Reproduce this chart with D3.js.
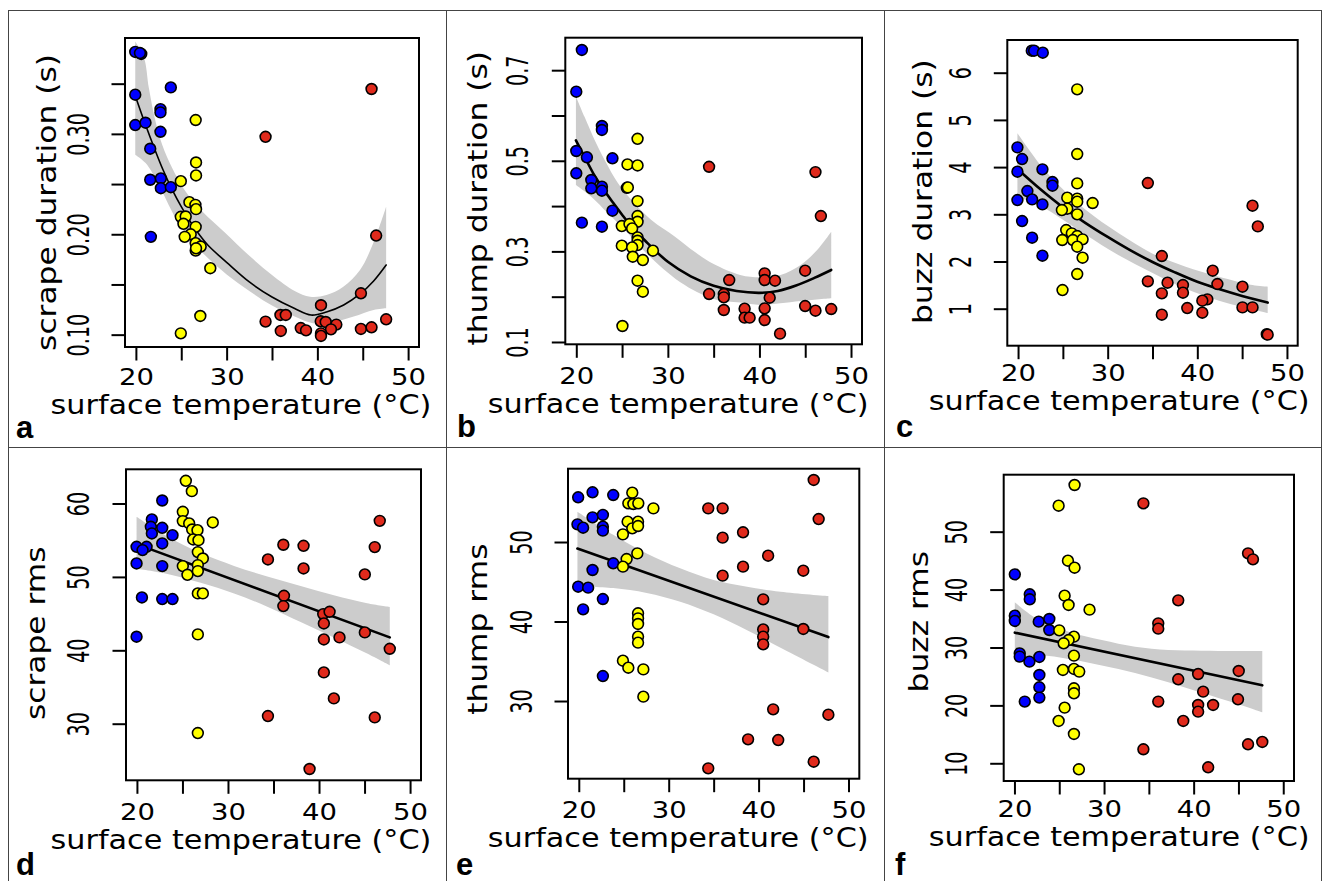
<!DOCTYPE html>
<html><head><meta charset="utf-8">
<script src="https://cdn.jsdelivr.net/npm/d3@7"></script>
<style>
body{margin:0;background:#fff}
svg{display:block}
text{font-family:"DejaVu Sans",sans-serif;fill:#000}
</style>
</head><body>
<svg id="chart" width="1323" height="881"></svg>
<script>
// ---------------- DATA ----------------
const xTicks = [20, 25, 30, 35, 40, 45, 50];
const xTickLabels = ["20", "", "30", "", "40", "", "50"];
const xLimits = [18.8, 51.2];
const xTitle = "surface temperature (°C)";

// panel a: scrape duration (s)
const aBlue = [[19.93,0.3816],[20.59,0.3796],[20.45,0.3805],[23.85,0.3463],[19.93,0.339],[22.71,0.3247],[22.71,0.3214],[19.93,0.3088],[21.06,0.3111],[22.71,0.3021],[21.58,0.2852],[21.58,0.2543],[22.75,0.2556],[22.75,0.2459],[23.85,0.2469],[21.65,0.1974]];
const aYellow = [[26.59,0.3138],[26.63,0.2715],[26.63,0.2586],[24.95,0.2529],[25.9,0.232],[26.56,0.2293],[26.63,0.225],[24.95,0.2174],[25.49,0.2177],[25.24,0.2104],[26.59,0.2074],[26.04,0.2],[25.38,0.1974],[26.59,0.1911],[27.14,0.1878],[26.59,0.1838],[26.63,0.186],[28.2,0.1662],[27.1,0.1186],[24.95,0.1013]];
const aRed = [[45.97,0.3447],[34.29,0.2971],[46.48,0.1987],[44.8,0.1412],[40.4,0.1293],[35.93,0.1196],[36.52,0.1196],[34.29,0.113],[40.37,0.1133],[40.92,0.1126],[42.09,0.11],[41.5,0.1053],[35.97,0.1037],[38.17,0.1066],[38.75,0.1043],[40.4,0.1013],[40.4,0.0987],[44.8,0.1057],[45.97,0.1073],[47.58,0.1153]];
const aFit = [[19.93,0.338],[21,0.3105],[22,0.2865],[23,0.264],[24,0.2445],[25,0.2275],[26,0.2125],[27,0.1995],[28,0.1885],[30,0.172],[32.5,0.1525],[35,0.1375],[37.5,0.126],[39.3,0.1195],[41,0.1225],[42.9,0.1295],[44.7,0.1405],[46.2,0.1535],[47.58,0.1694]];
const aHi = [[19.93,0.392],[20.9,0.3757],[21.43,0.3457],[22.16,0.3125],[22.9,0.2892],[24,0.266],[25.46,0.2428],[27.3,0.223],[29.86,0.2013],[32.6,0.1778],[35,0.1595],[37.5,0.1435],[39.2,0.1378],[41,0.1395],[42.86,0.1478],[44.7,0.1644],[46.15,0.191],[47.58,0.2275]];
const aLo = [[19.93,0.2793],[21.07,0.271],[22.5,0.25],[23.6,0.2295],[25.1,0.205],[27.5,0.18],[30,0.16],[32.5,0.1435],[35,0.129],[37.5,0.118],[39.5,0.1114],[41.8,0.1125],[44,0.118],[46.2,0.1246],[47.58,0.1263]];
const aYTicks = [0.10, 0.15, 0.20, 0.25, 0.30, 0.35];
const aYTickLabels = ["0.10", "", "0.20", "", "0.30", ""];
const aYLimits = [0.0877, 0.3955];

// panel b: thump duration (s)
const bBlue = [[20.61,0.7446],[20,0.6525],[22.8,0.5768],[22.8,0.568],[20,0.5216],[21.16,0.5077],[23.95,0.5055],[20,0.4724],[21.64,0.4576],[21.64,0.4393],[22.8,0.4428],[22.8,0.434],[23.95,0.3898],[20.61,0.3634],[22.8,0.3545]];
const bYellow = [[26.69,0.5485],[25.59,0.4919],[26.69,0.4897],[25.52,0.4404],[25.63,0.4412],[26.69,0.411],[26.69,0.378],[26.69,0.3654],[24.97,0.3559],[25.81,0.3603],[26.1,0.3507],[26.69,0.3309],[26.69,0.3235],[26.69,0.314],[24.97,0.3125],[26.1,0.3088],[28.37,0.3015],[26.17,0.2882],[27.27,0.2809],[26.69,0.2353],[27.27,0.211],[25.04,0.1353]];
const bRed = [[46.12,0.475],[34.5,0.4868],[46.71,0.378],[44.99,0.2574],[40.57,0.2515],[40.57,0.2368],[36.7,0.2368],[41.7,0.2353],[34.5,0.2059],[36.11,0.2059],[36.11,0.1985],[41.12,0.1978],[44.99,0.1794],[36.11,0.1706],[38.38,0.1735],[38.38,0.1537],[38.93,0.1537],[40.57,0.1743],[40.57,0.1485],[46.12,0.1691],[47.84,0.1728],[42.25,0.1184]];
const bFit = [[19.96,0.545],[21,0.505],[22,0.467],[23,0.436],[24,0.408],[25,0.381],[26,0.356],[27.5,0.324],[30,0.277],[32.5,0.245],[35,0.224],[37.5,0.2125],[40,0.2085],[42,0.2125],[44,0.2245],[46,0.2415],[47.84,0.259]];
const bHi = [[19.96,0.642],[20.9,0.597],[22,0.546],[23.1,0.5018],[24.56,0.4503],[26.03,0.4135],[28.2,0.3693],[30.78,0.3325],[33,0.298],[35,0.272],[37.9,0.248],[40.1,0.2428],[42.3,0.2479],[44.5,0.27],[46.3,0.3031],[47.84,0.3435]];
const bLo = [[19.96,0.4466],[21.64,0.4208],[23.46,0.3841],[25.3,0.3472],[27.7,0.295],[31.36,0.232],[35,0.195],[37.9,0.187],[40.1,0.1817],[42.3,0.1854],[44.5,0.1905],[47.84,0.1965]];
const bYTicks = [0.1, 0.2, 0.3, 0.4, 0.5, 0.6, 0.7];
const bYTickLabels = ["0.1", "", "0.3", "", "0.5", "", "0.7"];
const bYLimits = [0.0949, 0.7717];

// panel c: buzz duration (s)
const cBlue = [[21.53,6.466],[21.79,6.466],[22.76,6.424],[19.93,4.418],[20.45,4.171],[22.72,3.952],[19.93,3.903],[23.84,3.684],[23.84,3.606],[21.04,3.493],[19.93,3.302],[21.57,3.316],[22.72,3.21],[20.45,2.857],[21.57,2.504],[22.72,2.123]];
const cYellow = [[26.6,5.647],[26.6,4.277],[26.6,3.655],[25.49,3.352],[26.6,3.331],[26.6,3.267],[28.32,3.239],[25.49,3.119],[24.89,3.09],[26.6,2.999],[25.37,2.667],[26.0,2.596],[26.6,2.54],[24.93,2.455],[26.12,2.455],[27.2,2.469],[26.6,2.314],[27.2,2.08],[26.6,1.734],[24.96,1.395]];
const cRed = [[34.48,3.662],[46.16,3.182],[46.75,2.744],[36.04,2.116],[41.72,1.805],[42.24,1.523],[45.04,1.466],[34.48,1.579],[36.68,1.551],[38.4,1.501],[38.4,1.339],[36.04,1.325],[41.12,1.198],[40.56,1.169],[38.88,1.014],[45.04,1.028],[46.16,1.028],[40.56,0.915],[36.04,0.873],[47.75,0.46],[47.85,0.45]];
const cFit = [[19.93,3.96],[22.5,3.53],[25,3.15],[27.5,2.82],[30,2.52],[32.5,2.24],[35,1.99],[37.5,1.77],[40,1.57],[42.5,1.41],[45,1.27],[47.85,1.13]];
const cHi = [[19.93,4.715],[22.65,4.008],[24.89,3.55],[27.5,3.1],[31.23,2.596],[34.96,2.172],[38.7,1.89],[42.43,1.678],[46.16,1.501],[47.85,1.466]];
const cLo = [[19.93,3.373],[22.65,3.161],[24.89,2.9],[27.5,2.57],[31.23,2.13],[34.96,1.76],[38.7,1.42],[42.43,1.17],[46.16,0.985],[47.85,0.91]];
const cYTicks = [1, 2, 3, 4, 5, 6];
const cYTickLabels = ["1", "2", "3", "4", "5", "6"];
const cYLimits = [0.216, 6.693];

// panel d: scrape rms
const dBlue = [[22.78,60.41],[21.64,57.83],[21.53,56.83],[21.64,55.92],[22.78,56.69],[23.91,55.69],[22.78,54.56],[19.96,54.1],[21.06,54.1],[20.62,53.65],[19.96,51.83],[22.78,51.47],[20.55,47.2],[22.78,46.98],[23.91,46.98],[19.96,41.85]];
const dYellow = [[25.37,63.09],[26.03,61.68],[25.04,58.87],[25.04,57.6],[25.74,57.28],[28.33,57.42],[26.07,56.46],[26.65,56.37],[26.18,55.1],[26.76,55.01],[26.69,53.38],[27.24,52.51],[26.69,51.61],[25.04,51.47],[25.55,50.29],[26.69,50.79],[26.69,47.75],[27.24,47.75],[26.69,42.17],[26.69,28.73]];
const dRed = [[46.67,57.64],[36.08,54.38],[38.3,54.24],[46.12,54.06],[34.39,52.38],[38.3,51.15],[45.03,50.34],[36.15,47.43],[36.08,46.02],[40.46,44.93],[41.16,45.25],[40.53,43.66],[45.03,42.44],[42.25,41.76],[40.53,41.48],[47.77,40.21],[40.53,36.99],[41.63,33.45],[34.39,31.04],[46.12,30.86],[38.96,23.83]];
const dFit = [[19.96,54.47],[47.77,41.76]];
const dHi = [[19.96,58.19],[23.36,55.5],[27.01,53.25],[30.67,51.5],[34.32,50.05],[37.98,48.75],[41.63,47.5],[45.28,46.4],[47.77,45.9]];
const dLo = [[19.96,51.1],[23.36,50.4],[27.01,49.2],[30.67,47.75],[34.32,45.95],[37.98,43.85],[41.63,41.75],[45.28,39.55],[47.77,37.95]];
const dYTicks = [30, 40, 50, 60];
const dYTickLabels = ["30", "40", "50", "60"];
const dYLimits = [22.29, 64.66];

// panel e: thump rms
const eBlue = [[19.93,55.62],[21.53,56.25],[23.83,55.91],[21.53,53.1],[22.68,53.4],[19.85,52.22],[20.48,51.8],[22.68,51.93],[22.68,51.43],[23.83,47.32],[21.53,46.48],[19.93,44.38],[21.04,44.26],[22.68,42.83],[20.48,41.53],[22.68,33.14]];
const eYellow = [[25.95,56.2],[25.51,54.86],[26.07,54.78],[26.62,54.86],[28.3,54.23],[25.43,52.56],[26.59,52.56],[25.95,51.72],[26.59,52.01],[24.91,50.96],[26.51,48.57],[25.32,47.86],[24.91,46.9],[26.59,41.03],[26.59,40.4],[26.59,39.69],[26.59,38.09],[26.59,37.34],[24.91,35.07],[25.51,34.19],[27.18,33.98],[27.18,30.55]];
const eRed = [[46.13,57.8],[34.4,54.23],[36,54.23],[46.68,52.89],[38.27,51.22],[36,50.55],[41.06,48.28],[38.27,46.9],[44.97,46.39],[36,45.77],[40.51,42.79],[44.97,39.06],[40.51,39.01],[40.51,38.09],[40.51,37.13],[41.62,28.95],[47.76,28.28],[38.83,25.18],[42.18,25.09],[46.13,22.37],[34.4,21.53]];
const eFit = [[19.85,49.18],[47.76,38.04]];
const eHi = [[19.85,53.8],[23.83,50.9],[27.55,48.57],[31.28,46.69],[35,45.22],[38.72,44.38],[42.44,43.75],[47.76,43.2]];
const eLo = [[19.85,44.4],[23.83,44.2],[27.55,43.6],[31.28,42.5],[35,40.9],[38.72,38.9],[42.44,36.7],[47.76,33.6]];
const eYTicks = [30, 40, 50];
const eYTickLabels = ["30", "40", "50"];
const eYLimits = [20.23, 59.22];

// panel f: buzz rms
const fBlue = [[20.04,42.63],[20.04,35.5],[20.04,34.58],[21.71,39.18],[21.71,38.32],[22.71,34.46],[23.89,34.92],[23.89,33.02],[20.59,28.99],[20.59,28.42],[21.67,27.55],[22.78,28.36],[22.78,25.25],[22.78,23.12],[22.78,21.34],[21.15,20.65]];
const fYellow = [[26.71,58.06],[24.93,54.49],[25.97,44.99],[26.71,43.78],[25.6,38.95],[26.04,37.34],[28.38,36.53],[25.0,32.96],[26.64,31.87],[26.04,31.29],[25.49,30.72],[26.64,28.59],[25.41,26.12],[26.64,26.29],[27.23,25.83],[26.64,22.95],[26.64,22.09],[25.6,19.61],[24.93,17.31],[26.64,15.06],[27.19,8.96]];
const fRed = [[34.39,54.89],[46.07,46.26],[46.62,45.22],[38.28,38.14],[36.05,34.17],[36.05,33.25],[45.03,25.94],[40.5,25.42],[38.28,24.5],[41.06,22.37],[36.05,20.65],[44.95,21.05],[40.5,20.07],[42.17,20.07],[40.5,18.92],[38.84,17.31],[34.39,12.42],[46.07,13.28],[47.66,13.68],[41.62,9.31]];
const fFit = [[20.04,32.56],[47.66,23.46]];
const fHi = [[20.04,37.8],[22.34,35.1],[26.04,32.73],[29.75,31.3],[33.46,30.14],[37.17,29.57],[40.88,29.45],[44.58,29.4],[47.66,29.4]];
const fLo = [[20.04,27.4],[22.34,28.6],[26.04,28.0],[29.75,26.9],[33.46,25.6],[37.17,24.0],[40.88,22.2],[44.58,20.4],[47.66,18.8]];
const fYTicks = [10, 20, 30, 40, 50];
const fYTickLabels = ["10", "20", "30", "40", "50"];
const fYLimits = [6.94, 59.84];

const yTitles = ["scrape duration (s)", "thump duration (s)", "buzz duration (s)", "scrape rms", "thump rms", "buzz rms"];
const letters = ["a", "b", "c", "d", "e", "f"];

// ---------------- LAYOUT ----------------
const groupColors = {blue: "#0000ff", yellow: "#ffff00", red: "#e02a1c"};
const layout = [
  {box:[125,38,419,347], xTickY:38.3, yLabX:89.3, xT:[241,413.5], yT:[56,202.5], let:[16,438], lw:1.6},
  {box:[565.3,37.7,862,344.3], xTickY:39.7, yLabX:528, xT:[678.2,413], yT:[486.5,198.3], let:[457,437], lw:2.6},
  {box:[1007.3,40,1297.7,345.7], xTickY:35.7, yLabX:971, xT:[1119.2,410], yT:[932,191.7], let:[896,437], lw:2.6},
  {box:[126,469.3,421,780.3], xTickY:39.7, yLabX:89.3, xT:[241,849], yT:[44.5,633.3], let:[16,875], lw:2.6},
  {box:[568,468.7,859.3,778.7], xTickY:39.6, yLabX:532, xT:[678.2,846.7], yT:[486.5,629.2], let:[456,875], lw:2.6},
  {box:[1003.7,474.7,1294,781], xTickY:36.5, yLabX:966.7, xT:[1119.2,846], yT:[928,621.7], let:[895,875], lw:2.6}
];

const panels = [
  {blue:aBlue, yellow:aYellow, red:aRed, fit:aFit, hi:aHi, lo:aLo, yTicks:aYTicks, yLabs:aYTickLabels, yLim:aYLimits},
  {blue:bBlue, yellow:bYellow, red:bRed, fit:bFit, hi:bHi, lo:bLo, yTicks:bYTicks, yLabs:bYTickLabels, yLim:bYLimits},
  {blue:cBlue, yellow:cYellow, red:cRed, fit:cFit, hi:cHi, lo:cLo, yTicks:cYTicks, yLabs:cYTickLabels, yLim:cYLimits},
  {blue:dBlue, yellow:dYellow, red:dRed, fit:dFit, hi:dHi, lo:dLo, yTicks:dYTicks, yLabs:dYTickLabels, yLim:dYLimits},
  {blue:eBlue, yellow:eYellow, red:eRed, fit:eFit, hi:eHi, lo:eLo, yTicks:eYTicks, yLabs:eYTickLabels, yLim:eYLimits},
  {blue:fBlue, yellow:fYellow, red:fRed, fit:fFit, hi:fHi, lo:fLo, yTicks:fYTicks, yLabs:fYTickLabels, yLim:fYLimits}
];

const svg = d3.select("#chart");
svg.append("rect").attr("width",1323).attr("height",881).attr("fill","#fff");

// frame
const frame = svg.append("g").attr("stroke","#444").attr("stroke-width",1).attr("fill","none");
frame.append("line").attr("x1",8.5).attr("x2",8.5).attr("y1",10).attr("y2",881);
frame.append("line").attr("x1",8).attr("x2",1322).attr("y1",10.5).attr("y2",10.5);
frame.append("line").attr("x1",1321.5).attr("x2",1321.5).attr("y1",10).attr("y2",881);
frame.append("line").attr("x1",446.5).attr("x2",446.5).attr("y1",10).attr("y2",881);
frame.append("line").attr("x1",884.5).attr("x2",884.5).attr("y1",10).attr("y2",881);
frame.append("line").attr("x1",8).attr("x2",1322).attr("y1",447.5).attr("y2",447.5);

panels.forEach((p, i) => {
  const L = layout[i];
  const [bl, bt, br, bb] = L.box;
  const x = d3.scaleLinear().domain(xLimits).range([bl, br]);
  const y = d3.scaleLinear().domain(p.yLim).range([bb, bt]);
  const g = svg.append("g");

  const edge = d3.line().x(d => x(d[0])).y(d => y(d[1])).curve(d3.curveCatmullRom.alpha(0.5));
  const upper = edge(p.hi);
  const lower = edge(p.lo.slice().reverse());
  g.append("path").attr("d", upper + "L" + lower.slice(1) + "Z").attr("fill", "#cccccc");

  g.append("path").attr("d", edge(p.fit)).attr("fill","none").attr("stroke","#000")
    .attr("stroke-width", L.lw).attr("stroke-linecap","round");

  [["blue", p.blue], ["yellow", p.yellow], ["red", p.red]].forEach(([k, arr]) => {
    g.append("g").selectAll("circle").data(arr).join("circle")
      .attr("cx", d => x(d[0])).attr("cy", d => y(d[1])).attr("r", 5.4)
      .attr("fill", groupColors[k]).attr("stroke", "#000").attr("stroke-width", 1.6);
  });

  g.append("rect").attr("x", bl).attr("y", bt).attr("width", br - bl).attr("height", bb - bt)
    .attr("fill","none").attr("stroke","#000").attr("stroke-width",2);

  // x axis
  const gx = g.append("g").attr("transform", `translate(0,${bb})`)
    .call(d3.axisBottom(x).tickValues(xTicks).tickSize(13.5).tickFormat((d, j) => xTickLabels[j]));
  gx.attr("font-family", null).attr("font-size", null);
  gx.select(".domain").remove();
  gx.selectAll(".tick line").attr("stroke","#000").attr("stroke-width",2);
  gx.selectAll(".tick text").attr("y", L.xTickY).attr("dy", null)
    .attr("font-size", 23.5).attr("text-anchor","middle").attr("transform","scale(1.17,1)");

  // y axis
  const gy = g.append("g").attr("transform", `translate(${bl},0)`)
    .call(d3.axisLeft(y).tickValues(p.yTicks).tickSize(13.5).tickFormat((d, j) => p.yLabs[j]));
  gy.attr("font-family", null).attr("font-size", null);
  gy.select(".domain").remove();
  gy.selectAll(".tick line").attr("stroke","#000").attr("stroke-width",2);
  gy.selectAll(".tick text").attr("x", 0).attr("dy", null).attr("font-size", 31)
    .attr("text-anchor","middle")
    .attr("transform", `translate(${L.yLabX - bl},0) rotate(-90) scale(0.62,1)`);

  // titles
  svg.append("text").attr("text-anchor","middle").attr("font-size",26.3)
    .attr("transform", `translate(${L.xT[0]},${L.xT[1]}) scale(1.15,1)`).text(xTitle);
  svg.append("text").attr("text-anchor","middle").attr("font-size",26.3)
    .attr("transform", `translate(${L.yT[0]},${L.yT[1]}) rotate(-90) scale(1.19,1)`).text(yTitles[i]);
  svg.append("text").attr("font-size",31).attr("font-weight","bold")
    .style("font-family","'Liberation Sans', Arial, sans-serif")
    .attr("x", L.let[0]).attr("y", L.let[1]).text(letters[i]);
});
</script>
</body></html>
